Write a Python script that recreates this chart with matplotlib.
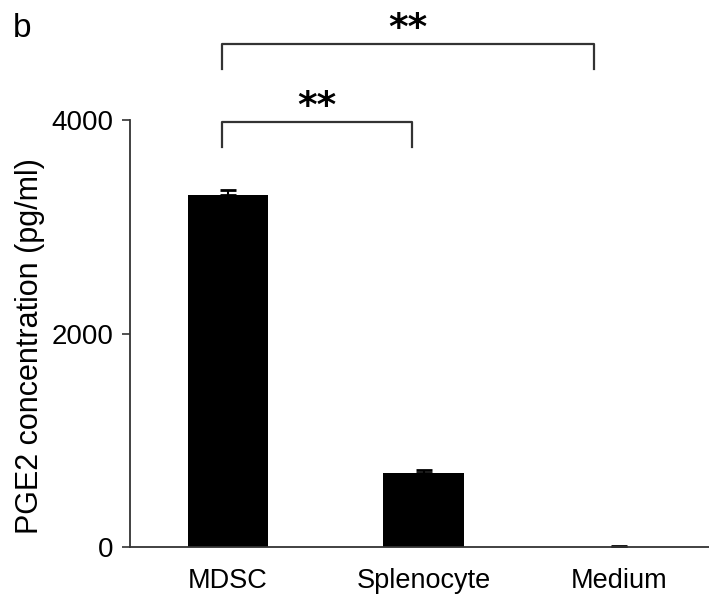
import matplotlib as mpl
mpl.use('Agg')
import numpy as np
import matplotlib.pyplot as plt

plt.rcParams['font.family'] = ['Liberation Sans', 'DejaVu Sans']

# PGE2 concentration per group
groups = ['MDSC', 'Splenocyte', 'Medium']
pge2   = [3300, 693, 4]
err    = [45, 25, 8]

# significance brackets: (left x, right x, top y, label)
brackets = [(-0.03, 0.94, 3980, '**'),
            (-0.03, 1.87, 4710, '**')]

fig = plt.figure(figsize=(7.09, 5.98), dpi=100)
ax = fig.add_axes([0.1834, 0.0853, 0.828, 0.714])

x = np.arange(len(groups))
ax.bar(x, pge2, width=0.41, color='black')
ax.errorbar(x, pge2, yerr=[np.zeros(len(err)), err], fmt='none',
            ecolor='black', elinewidth=1.5, capsize=6, capthick=2)

ax.set_xlim(-0.5, 2.5)
ax.set_ylim(0, 4000)
ax.set_yticks([0, 2000, 4000])
ax.set_xticks(x)
ax.set_xticklabels(groups)
ax.tick_params(axis='x', length=0, pad=15, labelsize=19.5)
ax.tick_params(axis='y', length=6, width=1.2, direction='out', pad=6,
               labelsize=20, color='#333333')
ax.spines['top'].set_visible(False)
ax.spines['right'].set_visible(False)
for s in ['left', 'bottom']:
    ax.spines[s].set_linewidth(1.3)
    ax.spines[s].set_color('#333333')
ax.set_ylabel('PGE2 concentration (pg/ml)', fontsize=22)
ax.yaxis.set_label_coords(-0.145, 0.47)

for x0, x1, yb, lab in brackets:
    ax.plot([x0, x0, x1, x1], [yb - 230, yb, yb, yb - 230], color='#333333',
            lw=1.6, clip_on=False)
    ax.text((x0 + x1) / 2, yb + 140, lab, ha='center', va='center',
            fontsize=27, fontweight='bold', family='DejaVu Sans')

fig.text(0.018, 0.978, 'b', fontsize=24, ha='left', va='top')

plt.savefig('out.png', dpi=100)
